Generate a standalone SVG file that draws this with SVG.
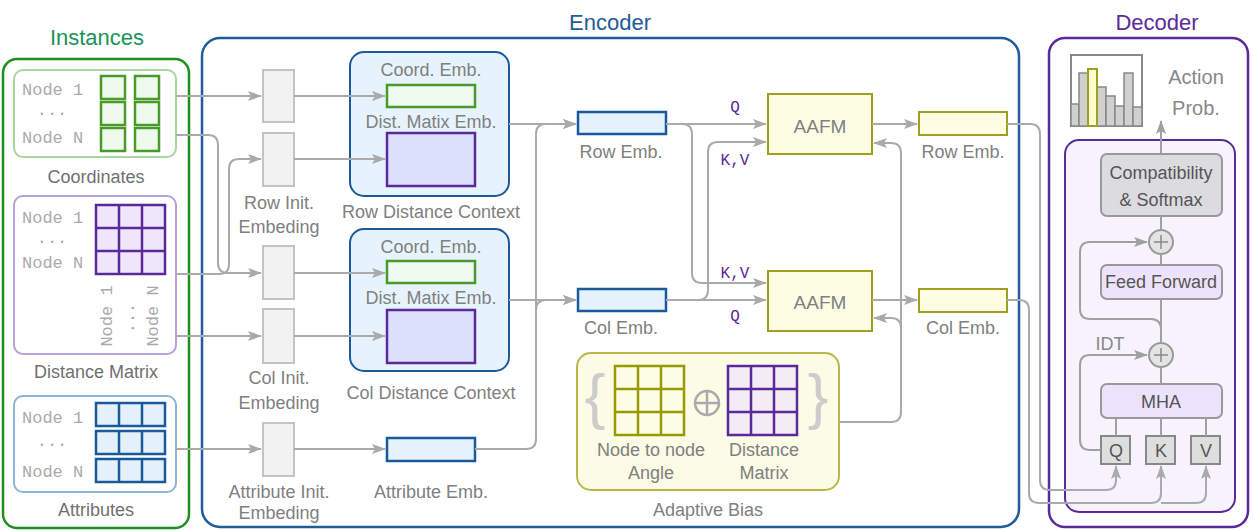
<svg xmlns="http://www.w3.org/2000/svg" width="1253" height="531" viewBox="0 0 1253 531">
<defs>
<marker id="ah" markerWidth="14" markerHeight="10" refX="13" refY="5" orient="auto" markerUnits="userSpaceOnUse">
<path d="M0,0 L14,5 L0,10 L3,5 Z" fill="#aaaaaa"/>
</marker>
<marker id="ahd" markerWidth="14" markerHeight="10" refX="13" refY="5" orient="auto" markerUnits="userSpaceOnUse">
<path d="M0,0 L14,5 L0,10 L3,5 Z" fill="#a0a0a0"/>
</marker>
</defs>
<style>
text{font-family:"Liberation Sans",Arial,sans-serif;}
.lbl{font-size:18px;fill:#808080;text-anchor:middle;}
.lbl2{font-size:18px;fill:#707070;text-anchor:middle;}
.ttl{font-size:22px;text-anchor:middle;}
.mono{font-family:"Liberation Mono","DejaVu Sans Mono",monospace;font-size:17px;fill:#aaaaaa;}
.qk{font-family:"Liberation Mono","DejaVu Sans Mono",monospace;font-size:16px;fill:#5a2a9a;text-anchor:middle;}
.dec{font-size:18px;fill:#555555;text-anchor:middle;}
.con{fill:none;stroke:#aaaaaa;stroke-width:2;}
.dcon{fill:none;stroke:#a0a0a0;stroke-width:2;}
.init{fill:#f2f2f2;stroke:#c4c4c4;stroke-width:2;}
.gcell{fill:#eefaee;stroke:#4a9a2a;stroke-width:2.5;}
.pcell{fill:#f0e6fc;stroke:#5a2a9a;stroke-width:2.5;}
.bcell{fill:#e4f0fa;stroke:#1a5a9a;stroke-width:2.5;}
.gemb{fill:#f0faf0;stroke:#4a9a2a;stroke-width:2.5;}
.pemb{fill:#dde0fc;stroke:#5a2a9a;stroke-width:2.5;}
.bemb{fill:#e4f2fc;stroke:#1a5a9a;stroke-width:2.5;}
.yemb{fill:#fdfde4;stroke:#a0a020;stroke-width:2;}
.ctx{fill:#e6f3fc;stroke:#1a5a9a;stroke-width:2;}
.box2{fill:#ede2fb;stroke:#999999;stroke-width:2;}
.qkv{fill:#dedede;stroke:#888888;stroke-width:2;}
.plus{fill:#e4e4e4;stroke:#999999;stroke-width:2;}
</style>
<rect width="1253" height="531" fill="#ffffff"/>

<!-- Instances -->
<g id="instances">
<text class="ttl" x="97" y="45" fill="#1a935a">Instances</text>
<rect x="3" y="59" width="186" height="469" rx="14" fill="#ffffff" stroke="#1e8f1e" stroke-width="2.5"/>
</g>
<g id="coordinates">
<rect x="14" y="70" width="162" height="87" rx="9" fill="#ffffff" stroke="#a8d5a0" stroke-width="2"/>
<text class="mono" x="22" y="95">Node 1</text>
<text class="mono" x="52" y="115" text-anchor="middle">...</text>
<text class="mono" x="22" y="143">Node N</text>
<rect class="gcell" x="101" y="76" width="24" height="23"/>
<rect class="gcell" x="135" y="76" width="24" height="23"/>
<rect class="gcell" x="101" y="102" width="24" height="23"/>
<rect class="gcell" x="135" y="102" width="24" height="23"/>
<rect class="gcell" x="101" y="128" width="24" height="23"/>
<rect class="gcell" x="135" y="128" width="24" height="23"/>
<text class="lbl2" x="96" y="183">Coordinates</text>
</g>
<g id="distance-matrix">
<rect x="14" y="196" width="162" height="158" rx="9" fill="#ffffff" stroke="#b8a0d8" stroke-width="2"/>
<text class="mono" x="22" y="223">Node 1</text>
<text class="mono" x="52" y="243" text-anchor="middle">...</text>
<text class="mono" x="22" y="268">Node N</text>
<rect class="pcell" x="96" y="205" width="69" height="69"/>
<path d="M119,205 V274 M142,205 V274 M96,228 H165 M96,251 H165" stroke="#5a2a9a" stroke-width="2.5"/>
<text class="mono" transform="translate(112,316) rotate(-90)" text-anchor="middle">Node 1</text>
<text class="mono" transform="translate(134,318) rotate(-90)" text-anchor="middle">...</text>
<text class="mono" transform="translate(158,316) rotate(-90)" text-anchor="middle">Node N</text>
<text class="lbl2" x="96" y="378">Distance Matrix</text>
</g>
<g id="attributes">
<rect x="14" y="396" width="162" height="96" rx="9" fill="#ffffff" stroke="#90b4d4" stroke-width="2"/>
<text class="mono" x="22" y="423">Node 1</text>
<text class="mono" x="52" y="446" text-anchor="middle">...</text>
<text class="mono" x="22" y="477">Node N</text>
<rect class="bcell" x="96" y="403" width="69" height="23"/>
<rect class="bcell" x="96" y="431" width="69" height="23"/>
<rect class="bcell" x="96" y="459" width="69" height="23"/>
<path d="M119,403 V426 M142,403 V426 M119,431 V454 M142,431 V454 M119,459 V482 M142,459 V482" stroke="#1a5a9a" stroke-width="2.5"/>
<text class="lbl2" x="96" y="516">Attributes</text>
</g>

<!-- Encoder -->
<g id="encoder">
<text class="ttl" x="610" y="30" fill="#1f5c99">Encoder</text>
<rect x="202" y="38" width="817" height="489" rx="18" fill="#ffffff" stroke="#1f5c99" stroke-width="2.5"/>
</g>
<g id="row-init-1"><rect class="init" x="263" y="70" width="31" height="52"/></g>
<g id="row-init-2"><rect class="init" x="263" y="133" width="31" height="53"/>
<text class="lbl" x="279" y="209">Row Init.</text><text class="lbl" x="279" y="233">Embeding</text></g>
<g id="col-init-1"><rect class="init" x="263" y="246" width="31" height="53"/></g>
<g id="col-init-2"><rect class="init" x="263" y="309" width="31" height="54"/>
<text class="lbl" x="279" y="384">Col Init.</text><text class="lbl" x="279" y="409">Embeding</text></g>
<g id="attr-init"><rect class="init" x="263" y="423" width="31" height="53"/>
<text class="lbl" x="279" y="498">Attribute Init.</text><text class="lbl" x="279" y="519">Embeding</text></g>

<g id="row-distance-context">
<rect class="ctx" x="350" y="52" width="159" height="144" rx="14"/>
<text class="lbl" x="431" y="76">Coord. Emb.</text>
<rect class="gemb" x="387" y="85" width="88" height="22"/>
<text class="lbl" x="431" y="128">Dist. Matix Emb.</text>
<rect class="pemb" x="387" y="133" width="88" height="53"/>
<text class="lbl" x="431" y="218">Row Distance Context</text>
</g>
<g id="col-distance-context">
<rect class="ctx" x="350" y="229" width="159" height="142" rx="14"/>
<text class="lbl" x="431" y="253">Coord. Emb.</text>
<rect class="gemb" x="387" y="261" width="88" height="22"/>
<text class="lbl" x="431" y="304">Dist. Matix Emb.</text>
<rect class="pemb" x="387" y="310" width="88" height="53"/>
<text class="lbl" x="431" y="399">Col Distance Context</text>
</g>
<g id="attribute-emb">
<rect class="bemb" x="387" y="438" width="88" height="23"/>
<text class="lbl" x="431" y="498">Attribute Emb.</text>
</g>
<g id="row-emb">
<rect class="bemb" x="578" y="112" width="88" height="22"/>
<text class="lbl" x="621" y="158">Row Emb.</text>
</g>
<g id="col-emb">
<rect class="bemb" x="578" y="289" width="88" height="22"/>
<text class="lbl" x="621" y="334">Col Emb.</text>
</g>
<g id="aafm-row">
<rect class="yemb" x="768" y="94" width="104" height="60"/>
<text class="lbl" x="820" y="133" style="font-size:19px">AAFM</text>
</g>
<g id="aafm-col">
<rect class="yemb" x="768" y="271" width="104" height="60"/>
<text class="lbl" x="820" y="309" style="font-size:19px">AAFM</text>
</g>
<g id="row-emb-out">
<rect class="yemb" x="919" y="112" width="88" height="23"/>
<text class="lbl" x="963" y="158">Row Emb.</text>
</g>
<g id="col-emb-out">
<rect class="yemb" x="919" y="289" width="88" height="23"/>
<text class="lbl" x="963" y="334">Col Emb.</text>
</g>
<g id="adaptive-bias">
<rect x="577" y="353" width="262" height="137" rx="14" fill="#fbfbe6" stroke="#b8b848" stroke-width="2"/>
<text x="595" y="417" font-size="62" fill="#cccccc" text-anchor="middle">{</text>
<text x="818" y="417" font-size="62" fill="#cccccc" text-anchor="middle">}</text>
<rect x="615" y="366" width="69" height="69" fill="#fdfde6" stroke="#999900" stroke-width="2.5"/>
<path d="M638,366 V435 M661,366 V435 M615,389 H684 M615,412 H684" stroke="#999900" stroke-width="2.5"/>
<circle cx="707" cy="403" r="12" fill="none" stroke="#aaaaaa" stroke-width="2.5"/>
<path d="M695,403 H719 M707,391 V415" stroke="#aaaaaa" stroke-width="2.5"/>
<rect x="728" y="366" width="69" height="69" fill="#f3ecf5" stroke="#5a2a9a" stroke-width="2.5"/>
<path d="M751,366 V435 M774,366 V435 M728,389 H797 M728,412 H797" stroke="#5a2a9a" stroke-width="2.5"/>
<text class="lbl" x="651" y="456">Node to node</text>
<text class="lbl" x="651" y="479">Angle</text>
<text class="lbl" x="764" y="456">Distance</text>
<text class="lbl" x="764" y="479">Matrix</text>
<text class="lbl" x="708" y="516">Adaptive Bias</text>
</g>

<!-- Decoder -->
<g id="decoder">
<text class="ttl" x="1157" y="30" fill="#5b2a9a">Decoder</text>
<rect x="1049" y="38" width="199" height="489" rx="16" fill="#ffffff" stroke="#5b2a9a" stroke-width="2.5"/>
<rect x="1065" y="140" width="170" height="372" rx="14" fill="#f6f3fd" stroke="#5b2a9a" stroke-width="2"/>
</g>
<g id="action-prob">
<rect x="1071" y="55" width="71" height="71" fill="#ffffff" stroke="#888888" stroke-width="2"/>
<g fill="#d0d0d0" stroke="#888888" stroke-width="1.5">
<rect x="1071" y="104" width="8" height="22"/>
<rect x="1079" y="73" width="9" height="53"/>
<rect x="1097" y="87" width="9" height="39"/>
<rect x="1106" y="96" width="9" height="30"/>
<rect x="1115" y="106" width="9" height="20"/>
<rect x="1124" y="73" width="9" height="53"/>
<rect x="1133" y="107" width="9" height="19"/>
</g>
<rect x="1088" y="69" width="9" height="57" fill="#fdfdd0" stroke="#a0a020" stroke-width="2"/>
<text x="1196" y="84" font-size="20" fill="#888888" text-anchor="middle">Action</text>
<text x="1196" y="115" font-size="20" fill="#888888" text-anchor="middle">Prob.</text>
</g>
<g id="compatibility">
<rect x="1101" y="154" width="121" height="62" rx="6" fill="#dcdbe0" stroke="#999999" stroke-width="2"/>
<text class="dec" x="1161" y="179">Compatibility</text>
<text class="dec" x="1161" y="206">&amp; Softmax</text>
</g>
<g id="add-1"><circle class="plus" cx="1161" cy="242" r="12"/><path d="M1154,242 H1168 M1161,235 V249" stroke="#888888" stroke-width="1.5"/></g>
<g id="feed-forward">
<rect class="box2" x="1101" y="265" width="121" height="34" rx="6"/>
<text class="dec" x="1161" y="288">Feed Forward</text>
</g>
<g id="add-2"><circle class="plus" cx="1161" cy="355" r="12"/><path d="M1154,355 H1168 M1161,348 V362" stroke="#888888" stroke-width="1.5"/>
<text x="1110" y="350" font-size="18" fill="#888888" text-anchor="middle">IDT</text></g>
<g id="mha">
<rect class="box2" x="1101" y="384" width="121" height="34" rx="6"/>
<text class="dec" x="1161" y="408">MHA</text>
</g>
<g id="q"><rect class="qkv" x="1101" y="436" width="29" height="28"/><text class="dec" x="1116" y="457">Q</text></g>
<g id="k"><rect class="qkv" x="1146" y="436" width="29" height="28"/><text class="dec" x="1161" y="457">K</text></g>
<g id="v"><rect class="qkv" x="1191" y="436" width="29" height="28"/><text class="dec" x="1206" y="457">V</text></g>

<!-- Connectors -->
<g id="connectors">
<path class="con" d="M176,96 H261" marker-end="url(#ah)"/>
<path class="con" d="M176,135 H208 Q218,135 218,145 V263 Q218,273 228,273 H261" marker-end="url(#ah)"/>
<path class="con" d="M176,274 H219 Q229,274 229,264 V169 Q229,159 239,159 H261" marker-end="url(#ah)"/>
<path class="con" d="M176,336 H261" marker-end="url(#ah)"/>
<path class="con" d="M176,449 H261" marker-end="url(#ah)"/>
<path class="con" d="M294,96 H385" marker-end="url(#ah)"/>
<path class="con" d="M294,159 H385" marker-end="url(#ah)"/>
<path class="con" d="M294,273 H385" marker-end="url(#ah)"/>
<path class="con" d="M294,336 H385" marker-end="url(#ah)"/>
<path class="con" d="M294,449 H385" marker-end="url(#ah)"/>
<path class="con" d="M509,124 H576" marker-end="url(#ah)"/>
<path class="con" d="M509,300 H576" marker-end="url(#ah)"/>
<path class="con" d="M475,449 H526 Q536,449 536,439 V134 Q536,124 546,124 H576" marker-end="url(#ah)"/>
<path class="con" d="M536,310 Q536,300 546,300 H576" marker-end="url(#ah)"/>
<path class="con" d="M666,124 H766" marker-end="url(#ah)"/>
<path class="con" d="M666,124 H682 Q692,124 692,134 V273 Q692,283 702,283 H766" marker-end="url(#ah)"/>
<path class="con" d="M666,300 H766" marker-end="url(#ah)"/>
<path class="con" d="M666,300 H698 Q708,300 708,290 V152 Q708,142 718,142 H766" marker-end="url(#ah)"/>
<text class="qk" x="735" y="112">Q</text>
<text class="qk" x="735" y="165">K,V</text>
<text class="qk" x="735" y="278">K,V</text>
<text class="qk" x="735" y="321">Q</text>
<path class="con" d="M872,124 H917" marker-end="url(#ah)"/>
<path class="con" d="M872,300 H917" marker-end="url(#ah)"/>
<path class="con" d="M839,422 H891 Q901,422 901,412 V153 Q901,143 891,143 H874" marker-end="url(#ah)"/>
<path class="con" d="M901,328 Q901,318 891,318 H874" marker-end="url(#ah)"/>
<path class="con" d="M1007,124 H1030 Q1040,124 1040,134 V480 Q1040,490 1050,490 H1106 Q1116,490 1116,480 V466" marker-end="url(#ah)"/>
<path class="con" d="M1007,300 H1019 Q1029,300 1029,310 V493 Q1029,503 1039,503 H1151 Q1161,503 1161,493 V466" marker-end="url(#ah)"/>
<path class="con" d="M1161,503 H1196 Q1206,503 1206,493 V466" marker-end="url(#ah)"/>
<path class="dcon" d="M1161,154 V121" marker-end="url(#ahd)"/>
<path class="dcon" d="M1161,230 V216"/>
<path class="dcon" d="M1161,265 V254"/>
<path class="dcon" d="M1161,343 V299"/>
<path class="dcon" d="M1161,384 V367"/>
<path class="dcon" d="M1116,418 V436 M1161,418 V436 M1206,418 V436"/>
<path class="dcon" d="M1161,330 Q1161,319 1151,319 H1090 Q1080,319 1080,309 V252 Q1080,242 1090,242 H1147" marker-end="url(#ahd)"/>
<path class="dcon" d="M1101,450 H1090 Q1080,450 1080,440 V365 Q1080,355 1090,355 H1147" marker-end="url(#ahd)"/>
</g>
</svg>
